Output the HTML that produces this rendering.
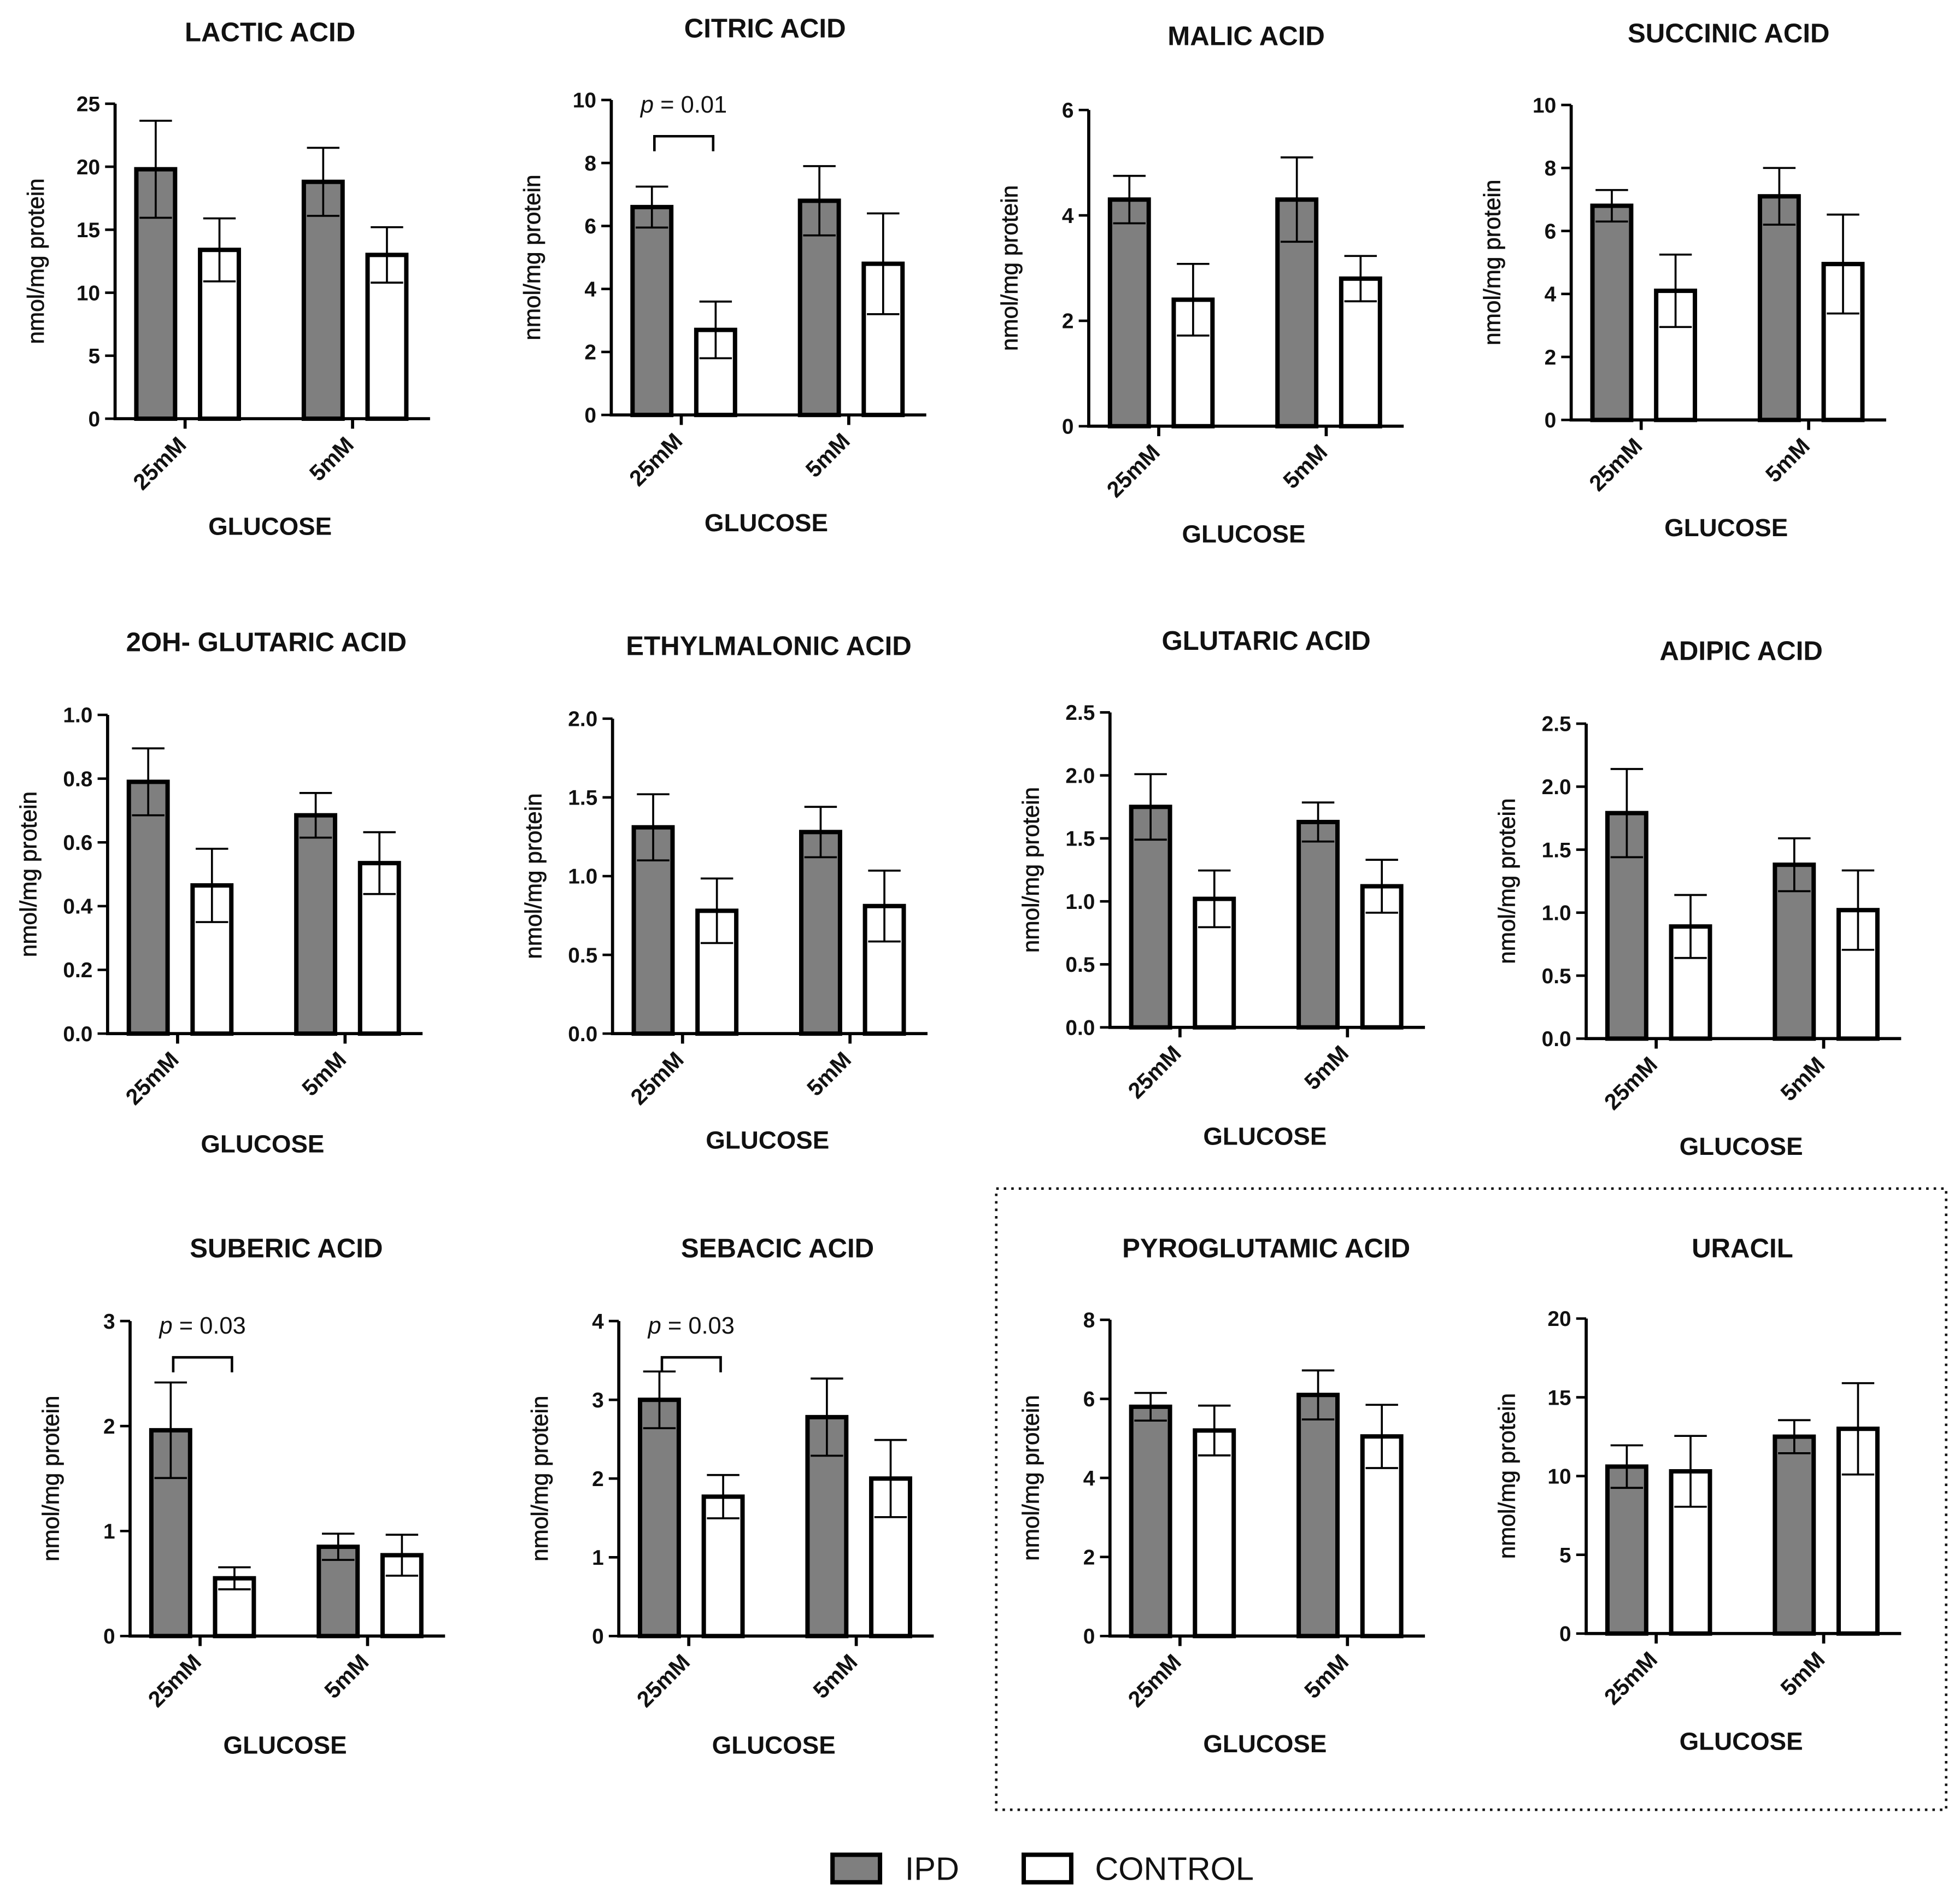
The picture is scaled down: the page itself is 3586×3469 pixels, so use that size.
<!DOCTYPE html>
<html><head><meta charset="utf-8"><style>
html,body{margin:0;padding:0;background:#fff}
svg{display:block}
text{font-family:"Liberation Sans",Arial,sans-serif;fill:#111}
</style></head><body>
<svg id="chart" width="3586" height="3469" viewBox="0 0 1568 1517" xmlns="http://www.w3.org/2000/svg">
<rect x="797" y="951" width="760" height="497" fill="none" stroke="#111" stroke-width="2" stroke-dasharray="2,4"/>
<g>
<rect x="666" y="1484" width="38" height="22" fill="#7f7f7f" stroke="#000" stroke-width="3.5"/>
<text x="724" y="1504" font-size="26">IPD</text>
<rect x="819" y="1484" width="38" height="22" fill="#fff" stroke="#000" stroke-width="3.5"/>
<text x="876" y="1504" font-size="26">CONTROL</text>
</g>
</svg>
<script>
const titles = ["LACTIC ACID","CITRIC ACID","MALIC ACID","SUCCINIC ACID","2OH- GLUTARIC ACID","ETHYLMALONIC ACID","GLUTARIC ACID","ADIPIC ACID","SUBERIC ACID","SEBACIC ACID","PYROGLUTAMIC ACID","URACIL"];
const categories = ["25mM","5mM"];
const yMax = [25,10,6,10,1.0,2.0,2.5,2.5,3,4,8,20];
const yStep = [5,2,2,2,0.2,0.5,0.5,0.5,1,1,2,5];
const yDecimals = [0,0,0,0,1,1,1,1,0,0,0,0];
const ipdMean = [[19.8,18.8],[6.6,6.8],[4.3,4.3],[6.8,7.1],[0.79,0.685],[1.31,1.28],[1.75,1.63],[1.79,1.38],[1.96,0.85],[3.0,2.78],[5.8,6.1],[10.6,12.5]];
const ipdErr = [[3.85,2.7],[0.65,1.1],[0.45,0.8],[0.5,0.9],[0.105,0.07],[0.21,0.16],[0.26,0.155],[0.35,0.21],[0.455,0.125],[0.36,0.49],[0.35,0.62],[1.35,1.05]];
const ctrlMean = [[13.4,13.0],[2.7,4.8],[2.4,2.8],[4.1,4.95],[0.465,0.535],[0.78,0.81],[1.02,1.12],[0.89,1.02],[0.55,0.77],[1.77,2.0],[5.2,5.05],[10.3,13.0]];
const ctrlErr = [[2.5,2.2],[0.9,1.6],[0.68,0.43],[1.15,1.57],[0.115,0.097],[0.205,0.225],[0.225,0.21],[0.25,0.315],[0.105,0.195],[0.275,0.49],[0.63,0.8],[2.25,2.9]];
const pLabels = ["","p = 0.01","","","","","","","p = 0.03","p = 0.03","",""];
// layout (pixel geometry, not data)
const axLeft = [92,489,871,1257,86,490,888,1269,104,495,888,1269];
const axTop = [83,80,88,84,572,575,570,579,1057,1057,1056,1055];
const axBottom = [335,332,341,336,827,827,822,831,1309,1309,1309,1307];
const titleY = [26,23,29,27,514,517,513,521,999,999,999,999];
const titleX = [216,612,997,1383,213,615,1013,1393,229,622,1013,1394];
const glucY = [421,418,427,422,915,912,909,917,1396,1396,1395,1393];

const NS="http://www.w3.org/2000/svg";
const svg=document.getElementById('chart');
function mk(tag,attrs,parent){const e=document.createElementNS(NS,tag);for(const k in attrs)e.setAttribute(k,attrs[k]);(parent||svg).appendChild(e);return e;}

titles.forEach((t,i)=>{
  const g=mk('g',{});
  
  
  const xl=axLeft[i], yt=axTop[i], yb=axBottom[i], xr=xl+252;
  const y=v=>yb-(v/yMax[i])*(yb-yt);
  const barX=(gi,s)=>xl+17+gi*134+s*51;
  const bw=31;
  let e=mk('text',{x:titleX[i],y:titleY[i]+7,'font-size':21.5,'font-weight':'bold','text-anchor':'middle'},g);e.textContent=t;
  
  
  for(let gi=0;gi<2;gi++){
    [[ipdMean,ipdErr,'#7f7f7f','ipd'],[ctrlMean,ctrlErr,'#fff','control']].forEach((s,si)=>{
      const m=s[0][i][gi], er=s[1][i][gi];
      const bx=barX(gi,si), cx=bx+bw/2;
      const r=mk('rect',{x:bx,y:y(m),width:bw,height:yb-y(m),fill:s[2],stroke:'#000','stroke-width':3.5},g);
      
      
      const eb=mk('path',{d:`M${cx} ${y(m+er)}V${y(m-er)}M${cx-13} ${y(m+er)}H${cx+13}M${cx-13} ${y(m-er)}H${cx+13}`,stroke:'#000','stroke-width':1.6,fill:'none'},g);
      
      
    });
  }
  const ax=mk('path',{d:`M${xl} ${yt}V${yb}H${xr}`,stroke:'#000','stroke-width':2.5,fill:'none'},g);
  
  
  for(let v=0;v<=yMax[i]+1e-9;v+=yStep[i]){
    mk('line',{x1:xl-8,x2:xl,y1:y(v),y2:y(v),stroke:'#000','stroke-width':2},g);
    const tl=mk('text',{x:xl-12,y:y(v)+6,'font-size':17,'font-weight':'bold','text-anchor':'end'},g);
    tl.textContent=v.toFixed(yDecimals[i]);
    
    
  }
  const yl=mk('text',{transform:`translate(${xl-57},${(yt+yb)/2}) rotate(-90)`,'font-size':18.5,'text-anchor':'middle','stroke':'#111','stroke-width':0.3},g);
  yl.textContent='nmol/mg protein';
  
  
  categories.forEach((c,gi)=>{
    const tx=xl+56+gi*134;
    mk('line',{x1:tx,x2:tx,y1:yb,y2:yb+8,stroke:'#000','stroke-width':2.5},g);
    const cl=mk('text',{transform:`translate(${tx+2},${yb+22}) rotate(-45)`,'font-size':18,'font-weight':'bold','text-anchor':'end'},g);
    cl.textContent=c;
    
    
  });
  const gl=mk('text',{x:xl+124,y:glucY[i]+7,'font-size':20,'font-weight':'bold','text-anchor':'middle'},g);
  gl.textContent='GLUCOSE';
  
  
  if(pLabels[i]){
    const b1=barX(0,0)+bw/2+2, b2=barX(0,1)+bw/2-2;
    const by=yt+29;
    const br=mk('path',{d:`M${b1} ${by+12}V${by}H${b2}V${by+12}`,stroke:'#000','stroke-width':2,fill:'none'},g);
    
    
    const pt=mk('text',{x:(b1+b2)/2,y:yt+10,'font-size':19,'text-anchor':'middle'},g);
    const parts=pLabels[i].split(' ');
    const it=mk('tspan',{'font-style':'italic'},pt);it.textContent=parts[0];
    const rest=mk('tspan',{},pt);rest.textContent=' '+parts.slice(1).join(' ');
    
    
  }
});
</script>
</body></html>
